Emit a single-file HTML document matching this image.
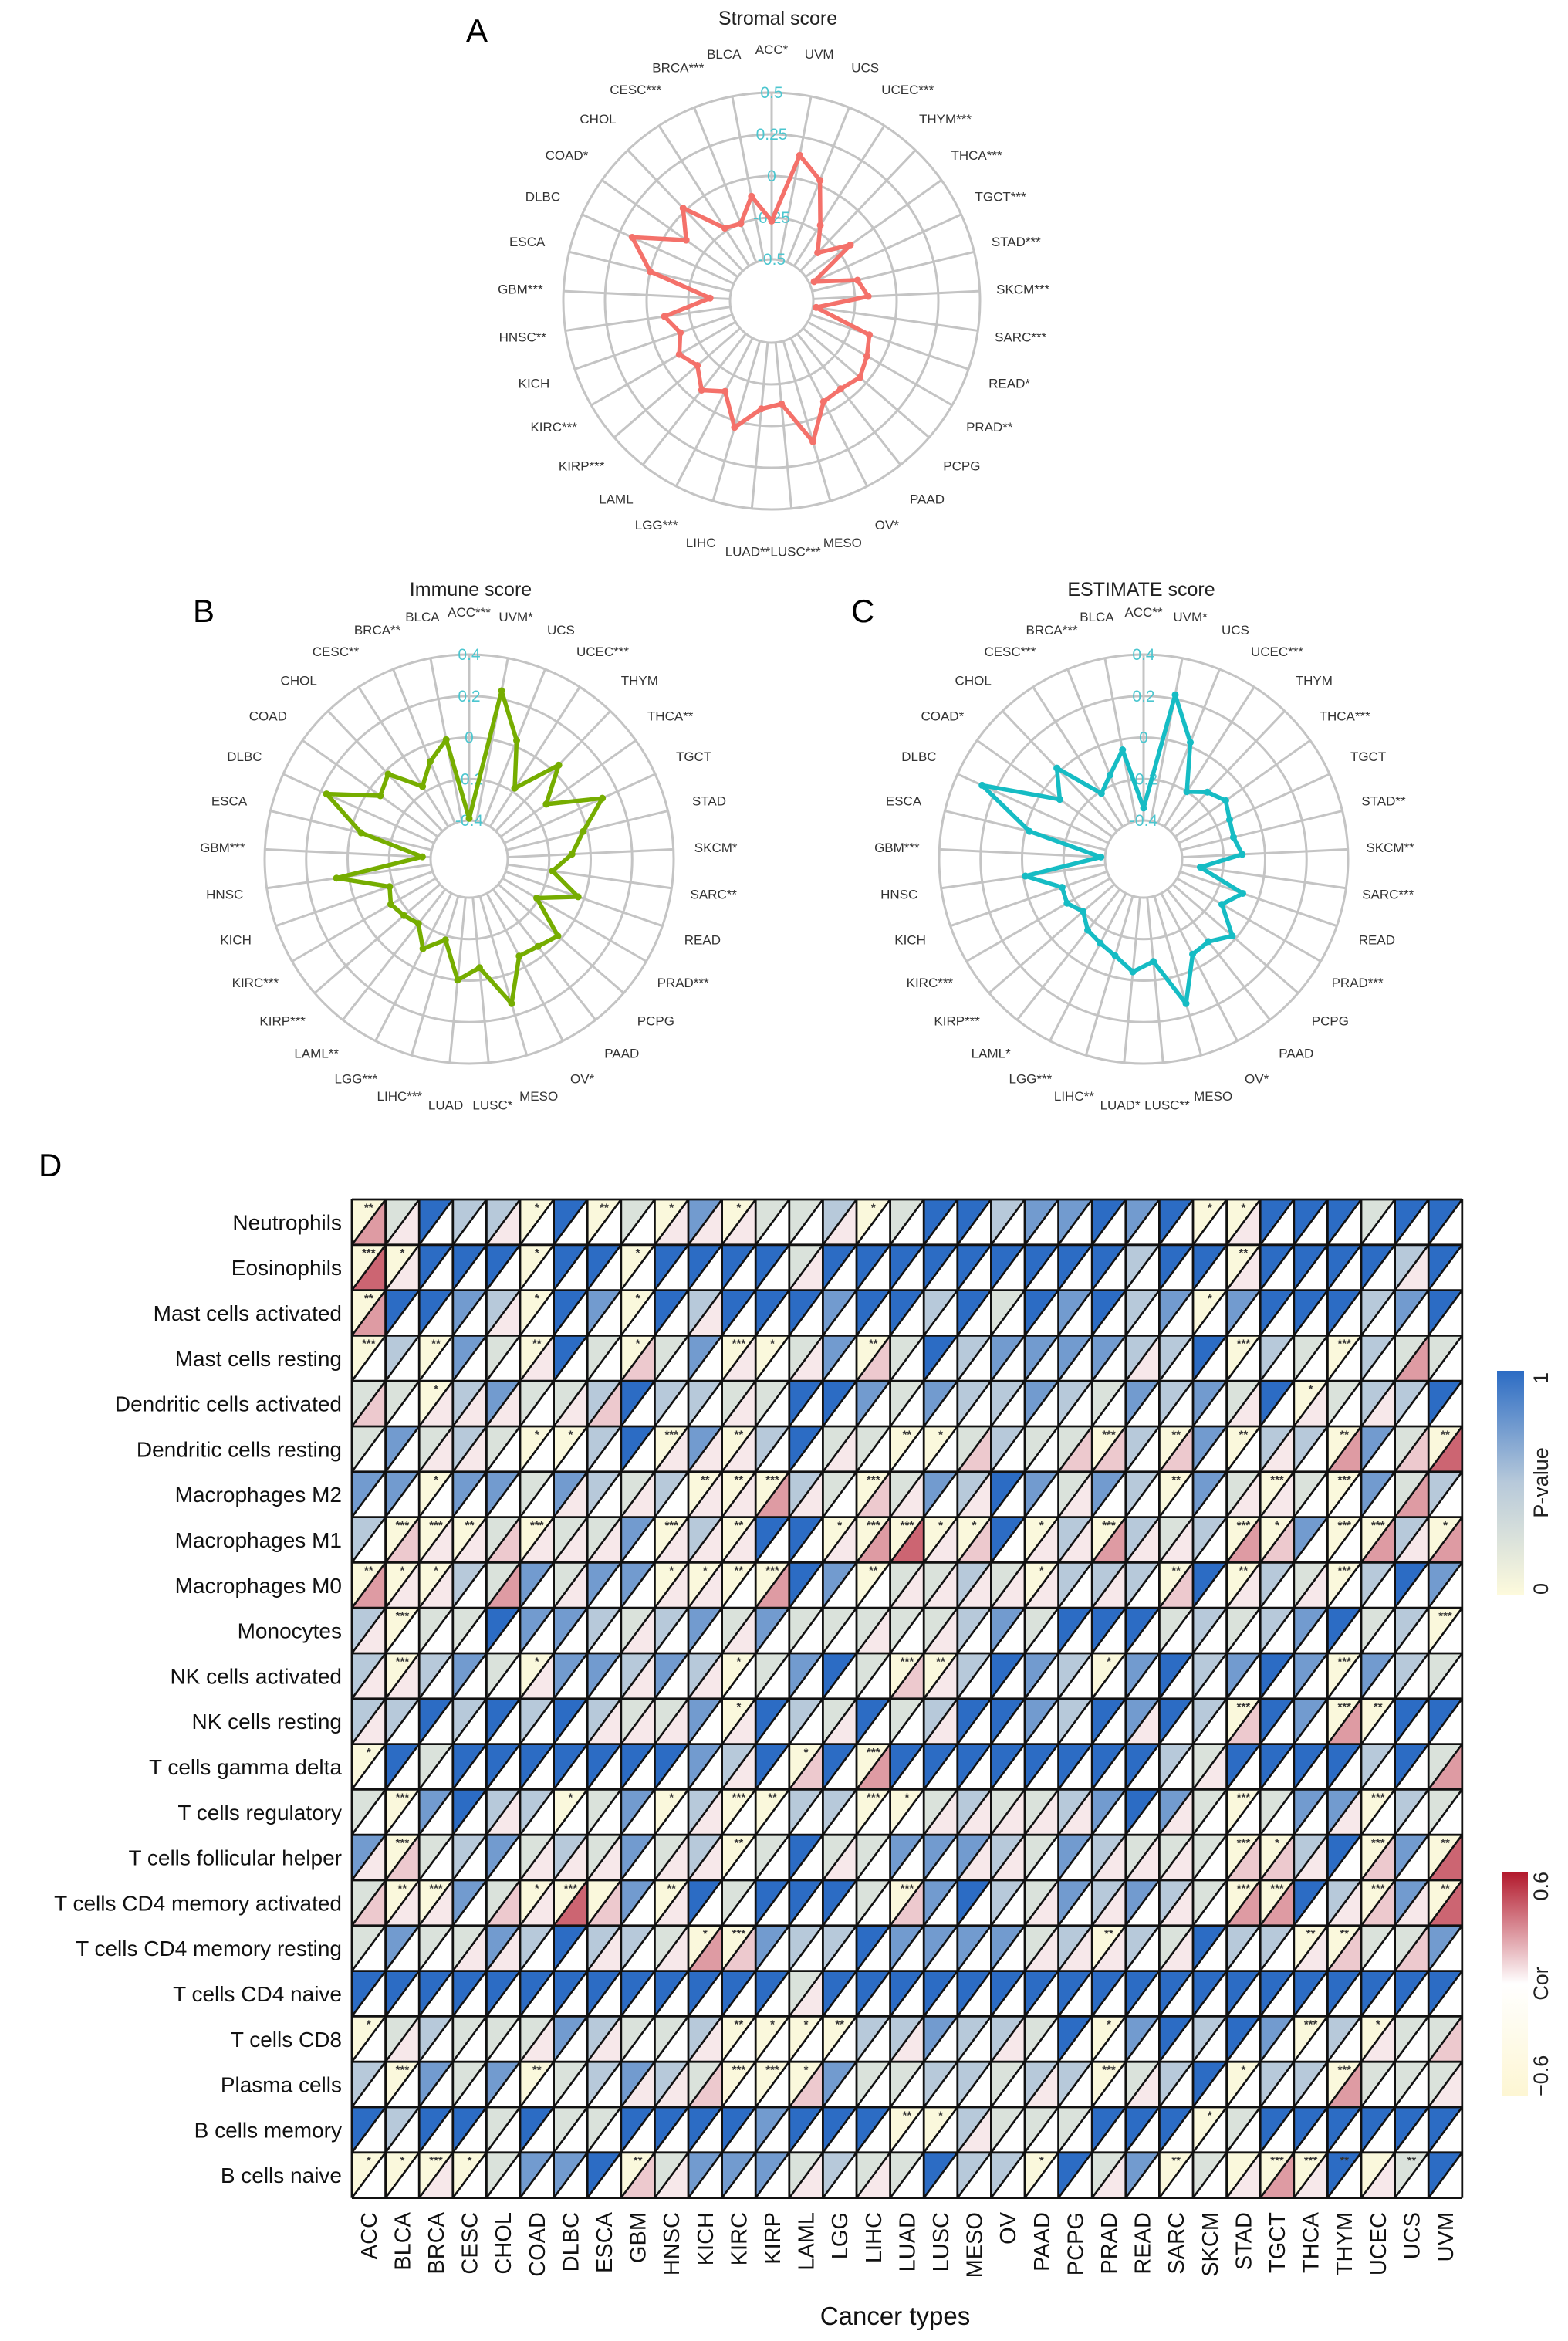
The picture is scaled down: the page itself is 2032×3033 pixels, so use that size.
<!DOCTYPE html>
<html><head><meta charset="utf-8">
<style>
html,body{margin:0;padding:0;background:#fff;}
svg{display:block;font-family:"Liberation Sans",Arial,sans-serif;}
</style></head>
<body>
<svg id="fig" width="2032" height="3033" viewBox="0 0 2032 3033" xmlns="http://www.w3.org/2000/svg">
<rect width="2032" height="3033" fill="#fff"/>
<text x="604" y="54" font-size="42">A</text>
<text x="250" y="806" font-size="42">B</text>
<text x="1103" y="806" font-size="42">C</text>
<text x="50" y="1524" font-size="42">D</text>
<g id="radarA"></g>
<g id="radarB"></g>
<g id="radarC"></g>
<g id="heat"></g>
<g id="legend"></g>
</svg>
<script>
// ---------- radar data ----------
const radarCats = ["ACC","UVM","UCS","UCEC","THYM","THCA","TGCT","STAD","SKCM","SARC","READ","PRAD","PCPG","PAAD","OV","MESO","LUSC","LUAD","LIHC","LGG","LAML","KIRP","KIRC","KICH","HNSC","GBM","ESCA","DLBC","COAD","CHOL","CESC","BRCA","BLCA"];
const stromalStars = ["*","","","***","***","***","***","***","***","***","*","**","","","*","","***","**","","***","","***","***","","**","***","","","*","","***","***",""];
const immuneStars = ["***","*","","***","","**","","","*","**","","***","","","*","","*","","***","***","**","***","***","","","***","","","","","**","**",""];
const estimateStars = ["**","*","","***","","***","","**","**","***","","***","","","*","","**","*","**","***","*","***","***","","","***","","","*","","***","***",""];
const stromalValues = [-0.27,0.14,0.03,-0.21,-0.35,-0.17,-0.47,-0.22,-0.17,-0.48,-0.13,-0.09,-0.05,-0.08,-0.07,0.13,-0.13,-0.1,0.04,-0.14,-0.07,-0.16,-0.11,-0.17,-0.10,-0.38,0.0,0.17,-0.12,0.02,-0.23,-0.25,-0.11];
const immuneValues = [-0.39,0.24,0.03,-0.18,0.04,-0.13,0.12,-0.02,-0.09,-0.18,-0.03,-0.21,-0.02,-0.05,-0.06,0.14,-0.06,0.0,-0.18,-0.10,-0.19,-0.17,-0.15,-0.18,0.06,-0.36,-0.05,0.17,-0.06,-0.02,-0.17,-0.08,0.0];
const estimateValues = [-0.34,0.22,0.02,-0.20,-0.14,-0.10,-0.13,-0.14,-0.11,-0.31,-0.08,-0.15,-0.02,-0.08,-0.07,0.14,-0.09,-0.04,-0.10,-0.13,-0.15,-0.2,-0.16,-0.17,-0.01,-0.38,-0.02,0.27,-0.09,0.02,-0.21,-0.15,-0.05];
const stromalTicks = ["-0.5","-0.25","0","0.25","0.5"];
const immuneTicks = ["-0.4","-0.2","0","0.2","0.4"];
const estimateTicks = ["-0.4","-0.2","0","0.2","0.4"];

// ---------- heatmap data ----------
const cellTypes = ["Neutrophils","Eosinophils","Mast cells activated","Mast cells resting","Dendritic cells activated","Dendritic cells resting","Macrophages M2","Macrophages M1","Macrophages M0","Monocytes","NK cells activated","NK cells resting","T cells gamma delta","T cells regulatory","T cells follicular helper","T cells CD4 memory activated","T cells CD4 memory resting","T cells CD4 naive","T cells CD8","Plasma cells","B cells memory","B cells naive"];
const cancerTypes = ["ACC","BLCA","BRCA","CESC","CHOL","COAD","DLBC","ESCA","GBM","HNSC","KICH","KIRC","KIRP","LAML","LGG","LIHC","LUAD","LUSC","MESO","OV","PAAD","PCPG","PRAD","READ","SARC","SKCM","STAD","TGCT","THCA","THYM","UCEC","UCS","UVM"];
const pLevels = [0.02,0.25,0.5,0.75,1];
const corLevels = [0,0.06,0.14,0.26,0.4];
const pRows = [
"01422040103"+"01120144233"+"43400444144",
"00444044044"+"44144444444"+"42440444424",
"04432043042"+"44434424143"+"42303444234",
"02031041013"+"00130142333"+"32240210211",
"11023112422"+"11443132232"+"13231401224",
"13121002403"+"02411001211"+"02030220310",
"33033132120"+"00210132431"+"32031010312",
"20001011302"+"04400000402"+"02120030020",
"00021313300"+"00430112102"+"22040210243",
"20114332123"+"13111112314"+"44121234120",
"20231033232"+"01341002432"+"03423430321",
"22424242113"+"04214124432"+"43420430044",
"04144444443"+"24040444444"+"44214444241",
"10342201302"+"00220012112"+"34310133021",
"30123121312"+"01411333213"+"21110024030",
"10031000304"+"14441034213"+"23210042030",
"13113242210"+"03224333312"+"02142200113",
"44444444444"+"44144444444"+"44444444444",
"01211132112"+"00002232214"+"03424302011",
"20313012321"+"00031122122"+"01240220111",
"42441411444"+"43444002111"+"44401444444",
"00001334013"+"33121142204"+"13010004014"];
const corRows = [
"31001000011"+"10010000000"+"00001000000",
"41000000000"+"00100000000"+"00001000010",
"30001000001"+"00000000000"+"00000000000",
"00000100200"+"10102000000"+"01000000030",
"20111012000"+"10000000000"+"00001010100",
"00110000011"+"10010002002"+"20200103024",
"00000010101"+"13102101001"+"00001100030",
"02112111011"+"10013412011"+"31103200313",
"31103010011"+"03000111110"+"10201010000",
"10000000100"+"10001010000"+"00000000000",
"11000100101"+"00000210000"+"00000000000",
"10000001110"+"10010010000"+"01002003000",
"00000000000"+"10203000000"+"00010000003",
"00001000001"+"00000011111"+"00100001000",
"12000111011"+"00010001100"+"11102210204",
"21102142010"+"00000200010"+"10103301214",
"00011001013"+"20000000011"+"10100012020",
"00000000000"+"00100000000"+"00000000000",
"01000101001"+"00000100100"+"00000000102",
"00000000112"+"00200000010"+"01000003001",
"00000000000"+"00000001000"+"00000000000",
"00100000210"+"00101000000"+"10001310100"];
const starRows = [
"20000102010"+"10001000000"+"00011000000",
"31000100100"+"00000000000"+"00002000000",
"20000100100"+"00000000000"+"00010000000",
"30200200100"+"31002000000"+"00003003000",
"00100000000"+"00000000000"+"00000010000",
"00000110030"+"20000210000"+"30202002002",
"00100000002"+"23003000000"+"00200303000",
"03320300030"+"20013311010"+"30003103301",
"21100000011"+"23002000010"+"00202003000",
"03000000000"+"00000000000"+"00000000003",
"03000100000"+"10000320000"+"10000003000",
"00000000000"+"10000000000"+"00003003200",
"10000000000"+"00103000000"+"00000000000",
"03000010010"+"32003100000"+"00003000300",
"03000000000"+"20000000000"+"00003100302",
"02300130020"+"00000300000"+"00003300302",
"00000000001"+"30000000000"+"20000022000",
"00000000000"+"00000000000"+"00000000000",
"10000000000"+"21120000000"+"10000030100",
"03000200000"+"33100000000"+"30001003000",
"00000000000"+"00000210000"+"00010000000",
"11310000200"+"00000000010"+"00200332020"];

const NS="http://www.w3.org/2000/svg";
function mk(tag,attrs,parent){const e=document.createElementNS(NS,tag);for(const k in attrs)e.setAttribute(k,attrs[k]);parent.appendChild(e);return e;}

// ---------- radar ----------
function drawRadar(gid,title,values,stars,ticks,cfg){
  const g=document.getElementById(gid);
  const n=radarCats.length;
  const rScale=v=>cfg.r0+(v-cfg.min)/(cfg.max-cfg.min)*(cfg.r1-cfg.r0);
  const ang=i=>i*2*Math.PI/n;
  const pt=(i,r)=>[cfg.cx+r*Math.sin(ang(i)),cfg.cy-r*Math.cos(ang(i))];
  const t=mk('text',{x:cfg.tx,y:cfg.ty,'font-size':25,'text-anchor':'middle',fill:'#222'},g);
  t.textContent=title;
  
  
  for(let k=0;k<ticks.length;k++){
    const r=cfg.r0+k*(cfg.r1-cfg.r0)/(ticks.length-1);
    const c=mk('circle',{cx:cfg.cx,cy:cfg.cy,r:r,fill:'none',stroke:'#c4c4c4','stroke-width':3},g);
    
    
  }
  for(let i=0;i<n;i++){
    const a=pt(i,cfg.r0),b=pt(i,cfg.r1);
    const l=mk('line',{x1:a[0],y1:a[1],x2:b[0],y2:b[1],stroke:'#c4c4c4','stroke-width':3},g);
    
    
    const p=pt(i,cfg.rl);
    const lab=mk('text',{x:p[0],y:p[1]+6,'font-size':17,'text-anchor':'middle',fill:'#333'},g);
    lab.textContent=radarCats[i]+stars[i];
    
    
  }
  for(let k=0;k<ticks.length;k++){
    const r=cfg.r0+k*(cfg.r1-cfg.r0)/(ticks.length-1);
    const tl=mk('text',{x:cfg.cx,y:cfg.cy-r+7,'font-size':21,'text-anchor':'middle',fill:'#4cc6cf'},g);
    tl.textContent=ticks[k];
    
    
  }
  const pts=values.map((v,i)=>pt(i,rScale(v)));
  const poly=mk('polygon',{points:pts.map(p=>p[0].toFixed(1)+','+p[1].toFixed(1)).join(' '),fill:'none',stroke:cfg.color,'stroke-width':5.5,'stroke-linejoin':'round'},g);
  
  
  pts.forEach(p=>{
    const d=mk('circle',{cx:p[0],cy:p[1],r:4.5,fill:cfg.color},g);
    
    
  });
}
drawRadar('radarA','Stromal score',stromalValues,stromalStars,stromalTicks,{cx:1000,cy:390,r0:54,r1:270,rl:326,min:-0.5,max:0.5,color:'#f4716a',tx:1008,ty:32});
drawRadar('radarB','Immune score',immuneValues,immuneStars,immuneTicks,{cx:608,cy:1113,r0:50,r1:265,rl:320,min:-0.4,max:0.4,color:'#76ad00',tx:610,ty:772});
drawRadar('radarC','ESTIMATE score',estimateValues,estimateStars,estimateTicks,{cx:1482,cy:1113,r0:50,r1:265,rl:320,min:-0.4,max:0.4,color:'#16bcc4',tx:1479,ty:772});

// ---------- heatmap ----------
function hex(h){return [parseInt(h.substr(1,2),16),parseInt(h.substr(3,2),16),parseInt(h.substr(5,2),16)];}
function mix(a,b,t){a=hex(a);b=hex(b);return 'rgb('+a.map((v,i)=>Math.round(v+(b[i]-v)*t)).join(',')+')';}
function pColor(p){return p<=0.5?mix('#fdfadc','#b7c9da',p/0.5):mix('#b7c9da','#2c6cc4',(p-0.5)/0.5);}
function corColor(c){return c>=0?mix('#ffffff','#b2182b',Math.min(c/0.6,1)):mix('#ffffff','#fdf6d3',Math.min(-c/0.6,1));}
const HX=456,HY=1554,CW=43.6,RH=58.8;
const hg=document.getElementById('heat');
const xOf=j=>HX+j*CW, yOf=i=>HY+i*RH;
for(let i=0;i<cellTypes.length;i++){
  const pr=pRows[i].split('').map(d=>pLevels[+d]);
  const cr=corRows[i].split('').map(d=>corLevels[+d]);
  const sr=starRows[i].split('').map(Number);
  for(let j=0;j<cancerTypes.length;j++){
    const x=xOf(j),y=yOf(i);
    const up=mk('polygon',{points:`${x},${y} ${x+CW},${y} ${x},${y+RH}`,fill:pColor(pr[j])},hg);
    
    
    const lo=mk('polygon',{points:`${x+CW},${y} ${x+CW},${y+RH} ${x},${y+RH}`,fill:corColor(cr[j])},hg);
    
    
    const dg=mk('line',{x1:x,y1:y+RH,x2:x+CW,y2:y,stroke:'#111','stroke-width':2.6},hg);
    
    
    if(sr[j]>0){
      const st=mk('text',{x:x+CW*0.5,y:y+RH*0.26,'font-size':15,'text-anchor':'middle',fill:'#333','font-weight':'bold'},hg);
      st.textContent='*'.repeat(sr[j]);
      
      
    }
  }
  const rl=mk('text',{x:443,y:yOf(i)+RH/2+10,'font-size':28,'text-anchor':'end',fill:'#111'},hg);
  rl.textContent=cellTypes[i];
  
  
}
for(let i=0;i<=cellTypes.length;i++){
  const l=mk('line',{x1:HX,y1:yOf(i),x2:xOf(cancerTypes.length),y2:yOf(i),stroke:'#111','stroke-width':2.8},hg);
  
  
}
for(let j=0;j<=cancerTypes.length;j++){
  const l=mk('line',{x1:xOf(j),y1:HY,x2:xOf(j),y2:yOf(cellTypes.length),stroke:'#111','stroke-width':2.8},hg);
  
  
}
for(let j=0;j<cancerTypes.length;j++){
  const cx=xOf(j)+CW/2+10, cy=2866;
  const t=mk('text',{x:cx,y:cy,'font-size':29,'text-anchor':'end',transform:`rotate(-90 ${cx} ${cy})`,fill:'#111'},hg);
  t.textContent=cancerTypes[j];
  
  
}
const xt=mk('text',{x:1160,y:3012,'font-size':33,'text-anchor':'middle',fill:'#111'},hg);
xt.textContent='Cancer types';



// ---------- legends ----------
const lg=document.getElementById('legend');
const defs=mk('defs',{},lg);
const gp=mk('linearGradient',{id:'gp',x1:0,y1:1,x2:0,y2:0},defs);
mk('stop',{offset:'0',"stop-color":'#fdfadc'},gp);mk('stop',{offset:'0.5',"stop-color":'#b7c9da'},gp);mk('stop',{offset:'1',"stop-color":'#2c6cc4'},gp);
const gc=mk('linearGradient',{id:'gc',x1:0,y1:1,x2:0,y2:0},defs);
mk('stop',{offset:'0',"stop-color":'#fdf6d3'},gc);mk('stop',{offset:'0.5',"stop-color":'#ffffff'},gc);mk('stop',{offset:'1',"stop-color":'#b2182b'},gc);
const pb=mk('rect',{x:1940,y:1776,width:35,height:290,fill:'url(#gp)'},lg);


const cb=mk('rect',{x:1946,y:2425,width:34,height:290,fill:'url(#gc)'},lg);


function vtext(txt,x,y,anchor,name,size){
  const t=mk('text',{x:x,y:y,'font-size':size,'text-anchor':anchor,transform:`rotate(-90 ${x} ${y})`,fill:'#222'},lg);
  t.textContent=txt;
  
  
}
vtext('1',2006,1778,'end','pvalue-legend-max',27);
vtext('0',2006,2066,'start','pvalue-legend-min',27);
vtext('P-value',2006,1921,'middle','pvalue-legend-title',27);
vtext('0.6',2006,2425,'end','cor-legend-max',27);
vtext('\u22120.6',2006,2716,'start','cor-legend-min',27);
vtext('Cor',2006,2570,'middle','cor-legend-title',27);
</script>
</body></html>
